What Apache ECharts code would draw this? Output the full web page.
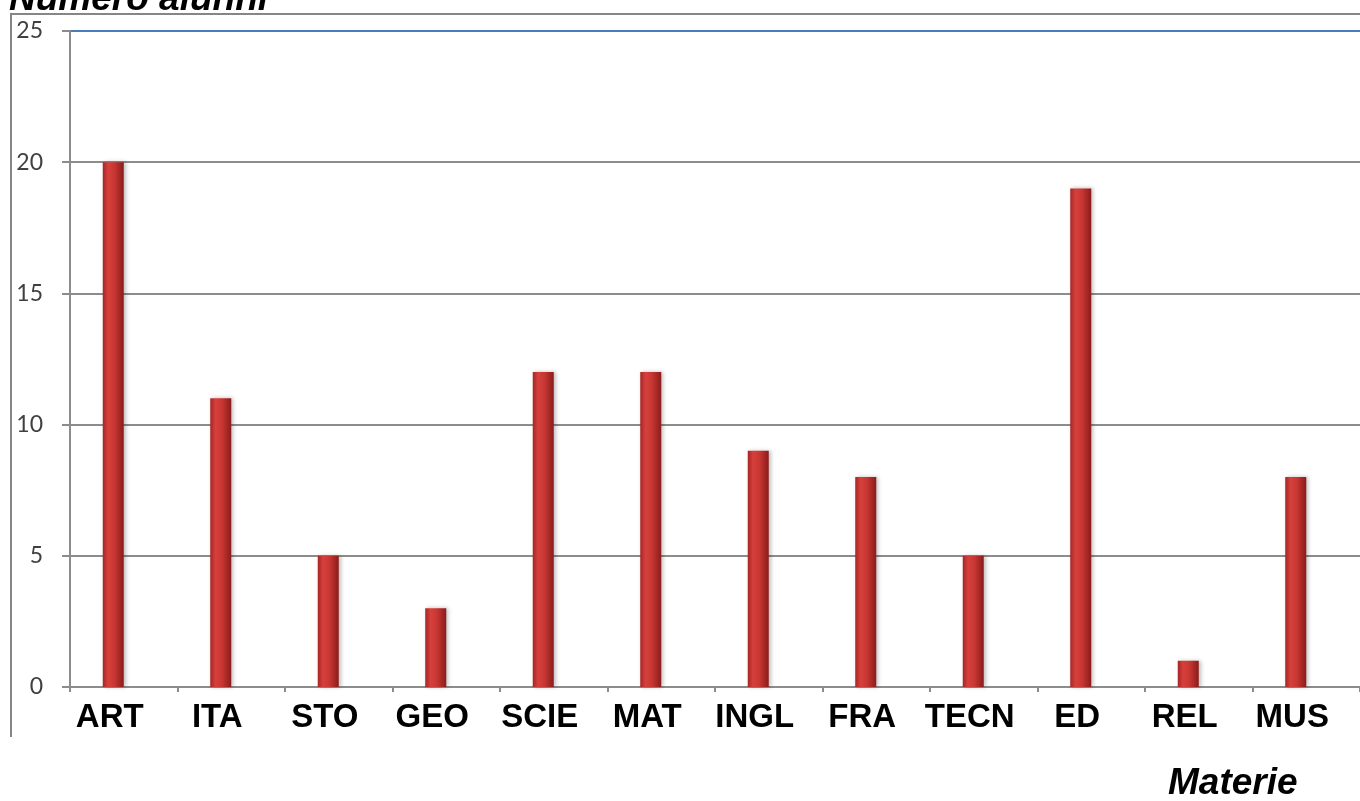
<!DOCTYPE html>
<html>
<head>
<meta charset="utf-8">
<title>Numero alunni per materia</title>
<script src="https://cdn.jsdelivr.net/npm/echarts@6/dist/echarts.min.js"></script>
<style>
  html, body { margin: 0; padding: 0; background: #fff; }
  #chart { width: 1360px; height: 801px; }
</style>
</head>
<body>
<div id="chart"></div>
<script>
// dati
const materie = ['ART', 'ITA', 'STO', 'GEO', 'SCIE', 'MAT', 'INGL', 'FRA', 'TECN', 'ED', 'REL', 'MUS'];
const alunni = [20, 11, 5, 3, 12, 12, 9, 8, 5, 19, 1, 8];
const yTicks = [0, 5, 10, 15, 20, 25];

var chart = echarts.init(document.getElementById('chart'));

// cilindro rosso
var barColor = new echarts.graphic.LinearGradient(0, 0, 1, 0, [
    { offset: 0, color: '#a52624' },
    { offset: 0.25, color: '#d6403c' },
    { offset: 0.55, color: '#c93733' },
    { offset: 1, color: '#8a1c1a' }
]);

var option = {
    animation: false,
    title: [
        {
            text: 'Numero alunni',
            left: 4,
            top: -24,
            textStyle: {
                fontFamily: 'Liberation Sans',
                fontSize: 37,
                fontWeight: 'bold',
                fontStyle: 'italic',
                color: '#000'
            }
        },
        {
            text: 'Materie',
            left: 1163,
            top: 760,
            textStyle: {
                fontFamily: 'Liberation Sans',
                fontSize: 37,
                fontWeight: 'bold',
                fontStyle: 'italic',
                color: '#000'
            }
        }
    ],
    graphic: [
        {
            type: 'polyline',
            silent: true,
            shape: { points: [[11, 737], [11, 14], [1360, 14]] },
            style: { stroke: '#868686', lineWidth: 2, fill: null }
        }
    ],
    grid: {
        left: 70,
        top: 31,
        bottom: 114,
        width: 1303
    },
    xAxis: {
        type: 'category',
        data: materie,
        axisLine: { lineStyle: { color: '#8c8c8c', width: 2 } },
        axisTick: { show: true, length: 5, lineStyle: { color: '#8c8c8c', width: 2 } },
        axisLabel: {
            interval: 0,
            fontFamily: 'Liberation Sans',
            fontSize: 33,
            fontWeight: 'bold',
            color: '#000',
            margin: 14,
            padding: [0, 28, 0, 0]
        }
    },
    yAxis: {
        type: 'value',
        min: 0,
        max: 25,
        interval: 5,
        axisLine: { show: true, lineStyle: { color: '#8c8c8c', width: 2 } },
        axisTick: { show: true, length: 8, lineStyle: { color: '#8c8c8c', width: 2 } },
        axisLabel: {
            fontFamily: 'Lato',
            fontSize: 23,
            color: '#404040',
            margin: 27,
            formatter: function (v) { return yTicks.indexOf(v) >= 0 ? String(v) : ''; }
        },
        splitLine: {
            lineStyle: {
                color: ['#8c8c8c', '#8c8c8c', '#8c8c8c', '#8c8c8c', '#8c8c8c', '#4a7ebb'],
                width: 2
            }
        }
    },
    series: [
        {
            name: 'Alunni',
            type: 'bar',
            data: alunni,
            barWidth: 21,
            barGap: '0%',
            itemStyle: {
                color: barColor,
                shadowColor: 'rgba(0,0,0,0.25)',
                shadowBlur: 4,
                shadowOffsetX: 2
            }
        },
        {
            // serie vuota: sposta le barre a sinistra come nell'originale
            name: 'vuota',
            type: 'bar',
            data: materie.map(function () { return null; }),
            barWidth: 21,
            silent: true
        }
    ]
};

chart.setOption(option);
</script>
</body>
</html>
